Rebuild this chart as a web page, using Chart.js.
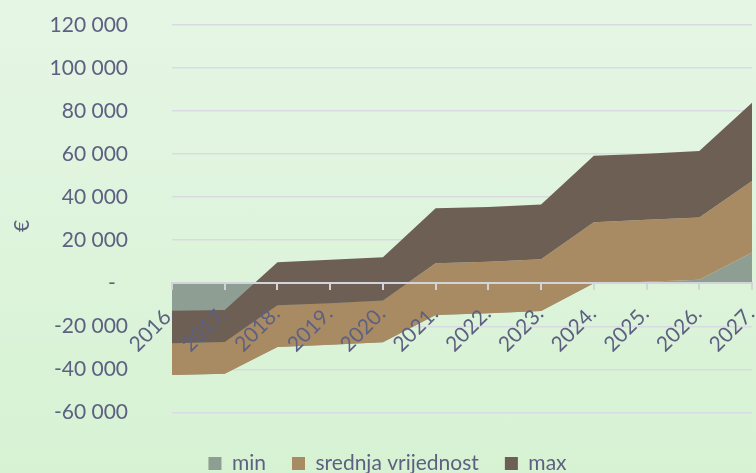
<!DOCTYPE html>
<html>
<head>
<meta charset="utf-8">
<script src="https://cdn.jsdelivr.net/npm/chart.js@4"></script>
<style>
    html, body { margin: 0; padding: 0; }
    #wrap {
        width: 756px;
        height: 473px;
        position: relative;
        background: linear-gradient(to bottom, #e6f6e5, #d6f2d3);
    }
</style>
</head>
<body>
<div id="wrap"><canvas id="chart"></canvas></div>
<script>
// Years on the category axis
const years = ['2016.', '2017.', '2018.', '2019.', '2020.', '2021.', '2022.', '2023.', '2024.', '2025.', '2026.', '2027.'];

// Stacked series values (€)
const minValues = [-42600, -42000, -29600, -28600, -27400, -14700, -13900, -12900, 0, 700, 1600, 14300];
const srednjaValues = [14700, 14700, 19400, 19300, 19400, 24000, 23900, 24100, 28400, 28800, 29000, 33200];
const maxValues = [15100, 14900, 20000, 20200, 20100, 25600, 25400, 25400, 30900, 30700, 30900, 36400];

// Y axis tick values
const yTicks = [-60000, -40000, -20000, 0, 20000, 40000, 60000, 80000, 100000, 120000];

const textColor = '#5e6082';
const font = { family: 'Lato, "Open Sans", sans-serif', size: 21 };

// Excel-style stacking: every series is summed on top of the previous one, whatever the sign
const minLine = minValues.slice();
const srednjaLine = minLine.map((v, i) => v + srednjaValues[i]);
const maxLine = srednjaLine.map((v, i) => v + maxValues[i]);

function formatTick(v) {
    if (v === 0) return '-\u2007';
    const s = String(Math.abs(v)).replace(/\B(?=(\d{3})+(?!\d))/g, ' ');
    return (v < 0 ? '-' : '') + s;
}

window.onload = function () {
    const ctx = document.getElementById('chart').getContext('2d');

    // datasets listed max -> min so that min is painted first (at the back)
    new Chart(ctx, {
        type: 'line',
        data: {
            labels: years,
            datasets: [
                {
                    label: 'max',
                    data: maxLine,
                    backgroundColor: '#6e5f55',
                    borderColor: '#6e5f55',
                    borderWidth: 0,
                    pointRadius: 0,
                    fill: 1
                },
                {
                    label: 'srednja vrijednost',
                    data: srednjaLine,
                    backgroundColor: '#a98b63',
                    borderColor: '#a98b63',
                    borderWidth: 0,
                    pointRadius: 0,
                    fill: 2
                },
                {
                    label: 'min',
                    data: minLine,
                    backgroundColor: '#8f9e93',
                    borderColor: '#8f9e93',
                    borderWidth: 0,
                    pointRadius: 0,
                    fill: 'origin'
                }
            ]
        },
        options: {
            responsive: true,
            maintainAspectRatio: false,
            animation: false,
            layout: { padding: { left: 23, top: 25, right: 4, bottom: -11 } },
            plugins: {
                tooltip: { enabled: false },
                legend: {
                    position: 'bottom',
                    reverse: true,
                    labels: {
                        boxWidth: 13,
                        boxHeight: 13,
                        padding: 26,
                        color: textColor,
                        font: font
                    }
                }
            },
            scales: {
                x: {
                    type: 'category',
                    position: { y: 0 },
                    offset: false,
                    // the axis sits inside the plot, so it should not eat any layout space
                    afterFit: (scale) => {
                        scale.height = 0;
                        scale.paddingLeft = 0;
                        scale.paddingRight = 0;
                    },
                    grid: {
                        drawOnChartArea: false,
                        drawTicks: true,
                        tickLength: 6,
                        color: '#d3d3dc',
                        lineWidth: 2,
                        z: 1
                    },
                    border: { color: '#d3d3dc', width: 2, z: 1 },
                    ticks: {
                        autoSkip: false,
                        minRotation: 45,
                        maxRotation: 45,
                        padding: 12,
                        labelOffset: -1,
                        color: textColor,
                        font: font,
                        z: 1
                    }
                },
                y: {
                    // bottom of the range hides under the legend, -60 000 stays the lowest tick
                    min: -66800,
                    max: 120000,
                    afterFit: (scale) => {
                        scale.width = 149;
                        scale.paddingTop = 0;
                        scale.paddingBottom = 0;
                    },
                    afterBuildTicks: (scale) => { scale.ticks = yTicks.map(v => ({ value: v })); },
                    grid: { color: '#dadbe2', lineWidth: 1.5, drawTicks: false },
                    border: { display: false },
                    ticks: {
                        padding: 44,
                        color: textColor,
                        font: font,
                        callback: (v) => formatTick(v)
                    },
                    title: {
                        display: true,
                        text: '€',
                        color: textColor,
                        font: font,
                        padding: { top: -13, bottom: 0 }
                    }
                }
            }
        }
    });
};
</script>
</body>
</html>
